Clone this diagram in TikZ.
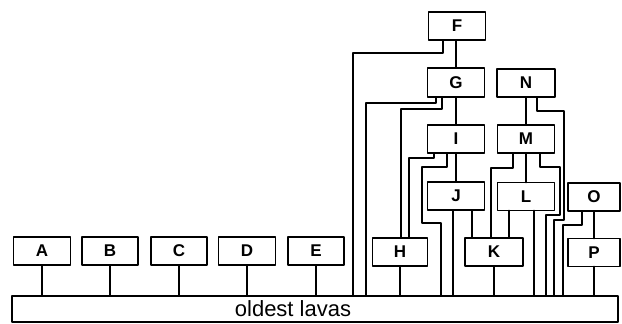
\documentclass[tikz,border=0pt]{standalone}
\usepackage{fontspec}
\setmainfont{Liberation Sans}
\begin{document}
\begin{tikzpicture}[x=1pt,y=-1pt,
  line width=1.8pt, line cap=round, line join=round,
  unit/.style={draw, inner sep=0pt, outer sep=0pt, minimum height=28pt,
               font=\fontsize{17}{17}\selectfont\bfseries},
  link/.style={draw}]
\useasboundingbox (0,0) rectangle (622,324);

% the oldest lavas at the base of the sequence
\node[draw, inner sep=0pt, outer sep=0pt, minimum width=606pt, minimum height=26pt] (base) at (315,309) {};
\node[font=\fontsize{22}{22}\selectfont, inner sep=0pt] (lavas) at (293,309) {oldest lavas};

% lava units
\node[unit, minimum width=57pt] (A) at (42,251) {A};
\node[unit, minimum width=56pt] (B) at (110,251) {B};
\node[unit, minimum width=56pt] (C) at (179,251) {C};
\node[unit, minimum width=57pt] (D) at (247,251) {D};
\node[unit, minimum width=56pt] (E) at (316,251) {E};
\node[unit, minimum width=55pt] (H) at (400,252) {H};
\node[unit, minimum width=58pt] (K) at (494,252) {K};
\node[unit, minimum width=52pt] (P) at (594,252.5) {P};
\node[unit, minimum width=57pt] (F) at (457,26) {F};
\node[unit, minimum width=57pt, minimum height=29pt] (G) at (456,82.5) {G};
\node[unit, minimum width=58pt] (N) at (526,83) {N};
\node[unit, minimum width=57pt] (I) at (456,139) {I};
\node[unit, minimum width=57pt] (M) at (526,139) {M};
\node[unit, minimum width=57pt] (J) at (456,196) {J};
\node[unit, minimum width=57pt] (L) at (526,196.5) {L};
\node[unit, minimum width=52pt] (O) at (594,197) {O};

% straight links down to the base
\foreach \u in {A,B,C,D,E,H,K,P}
  \draw[link] (\u.south) -- (\u.south |- base.north);

% straight links between stacked units
\draw[link] (G.north |- F.south) -- (G.north);
\draw[link] (I.north |- G.south) -- (I.north);
\draw[link] (J.north |- I.south) -- (J.north);
\draw[link] (M.north |- N.south) -- (M.north);
\draw[link] (L.north |- M.south) -- (L.north);
\draw[link] (P.north |- O.south) -- (P.north);
\draw[link] (J.south -| 453,0) -- (453,0 |- base.north);
\draw[link] (J.south -| 472,0) -- (472,0 |- K.north);
\draw[link] (L.south -| 509,0) -- (509,0 |- K.north);
\draw[link] (L.south -| 534,0) -- (534,0 |- base.north);

% elbowed links
\draw[link] (F.south -| 443,0) |- (353,53) -- (353,0 |- base.north);
\draw[link] (G.south -| 436,0) |- (366,103) -- (366,0 |- base.north);
\draw[link] (G.south -| 442,0) |- (401,109) -- (401,0 |- H.north);
\draw[link] (I.south -| 434,0) |- (409,158) -- (409,0 |- H.north);
\draw[link] (I.south -| 447,0) |- (422,167) |- (441,223) -- (441,0 |- base.north);
\draw[link] (M.south -| 513,0) |- (491,168) -- (491,0 |- K.north);
\draw[link] (M.south -| 540,0) |- (560,167) |- (546,215) -- (546,0 |- base.north);
\draw[link] (N.south -| 537,0) |- (564,111) |- (554,220) -- (554,0 |- base.north);
\draw[link] (O.south -| 582,0) |- (563,225) -- (563,0 |- base.north);
\end{tikzpicture}
\end{document}
